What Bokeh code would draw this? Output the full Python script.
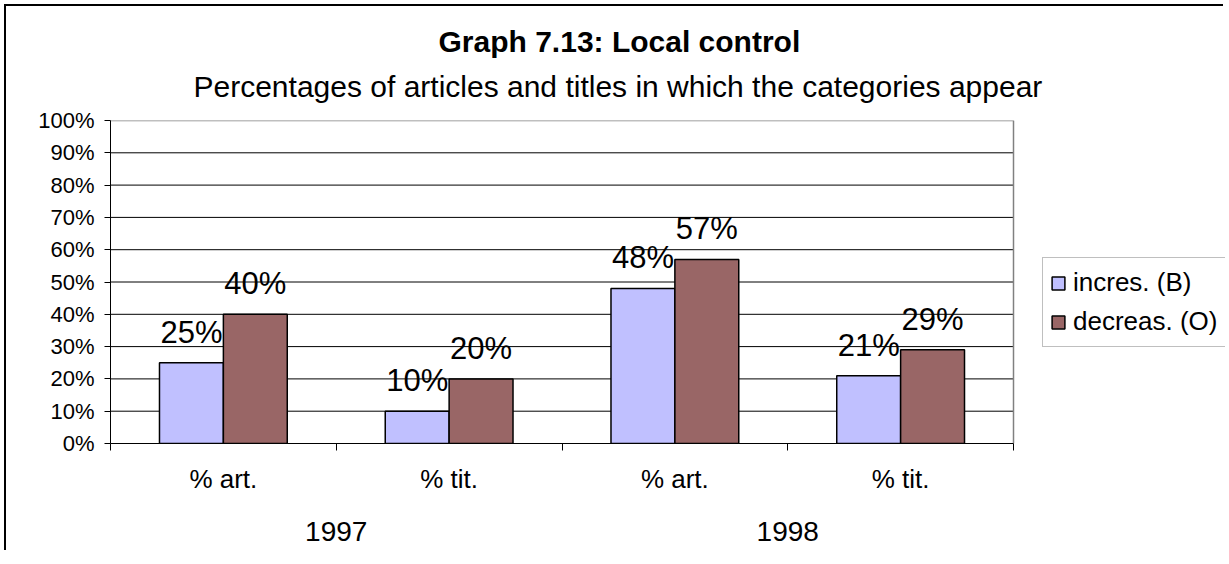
from bokeh.plotting import figure
from bokeh.models import (Range1d, FixedTicker, LinearAxis, Title, Legend, LegendItem,
                          LabelSet, ColumnDataSource, PrintfTickFormatter, Grid)
from bokeh.core.properties import value
from bokeh.embed import file_html
from bokeh.resources import INLINE

# ---- data ----
categories = ["% art.", "% tit.", "% art.", "% tit."]
years = ["1997", "1998"]
series_names = ["incres. (B)", "decreas. (O)"]
incres = [25, 10, 48, 21]
decreas = [40, 20, 57, 29]
y_ticks = list(range(0, 101, 10))

title_text = "Graph 7.13: Local control"
subtitle_text = "Percentages of articles and titles in which the categories appear"

FONT = "Liberation Sans"
W, H = 1219, 546
BLUE = "#C0C0FF"
BROWN = "#996666"

ML, MR, MT, MB = 104, 0, 114, 109
FRAME_W = W - ML - MR          # whole drawable width (legend lives inside it)
DATA_W = 903                   # pixel width of the category area
n = len(categories)
x_end = n * FRAME_W / DATA_W
y_max = y_ticks[-1]

p = figure(width=W, height=H, output_backend="svg", toolbar_location=None,
           x_range=Range1d(0, x_end), y_range=Range1d(0, y_max),
           min_border_left=ML, min_border_right=MR, min_border_top=MT, min_border_bottom=MB,
           x_axis_location=None, y_axis_location=None, title=None)
p.background_fill_color = "white"
p.border_fill_color = "white"
p.outline_line_color = None
p.styles = {"border-left": "2px solid black", "border-top": "2px solid black",
            "margin-left": "4px", "margin-top": "4px"}
for g in p.select(type=Grid):
    g.visible = False

# y axis
yax = LinearAxis(ticker=FixedTicker(ticks=y_ticks, minor_ticks=[]),
                 formatter=PrintfTickFormatter(format="%d%%"))
yax.major_label_text_font = FONT
yax.major_label_text_font_size = "22px"
yax.major_label_text_color = "black"
yax.major_tick_out = 6
yax.major_tick_in = 0
yax.major_tick_line_color = "black"
yax.axis_line_color = "black"
yax.major_label_standoff = 10
p.add_layout(yax, "left")

# horizontal gridlines, limited to the category area
inner = y_ticks[1:-1]
p.segment(x0=[0] * len(inner), x1=[n] * len(inner), y0=inner, y1=inner,
          line_color="black", line_width=1)
# plot-area border (top and right), grey
p.line(x=[0, n, n], y=[y_max, y_max, 0], line_color="#808080", line_width=1.5)

# x axis: category labels + boundary ticks
centers = [i + 0.5 for i in range(n)]
bounds = list(range(n + 1))
xax = LinearAxis(ticker=FixedTicker(ticks=centers, minor_ticks=bounds), bounds=(0, n))
xax.major_label_overrides = {c: lab for c, lab in zip(centers, categories)}
xax.major_tick_line_color = None
xax.major_tick_out = 0
xax.major_tick_in = 0
xax.minor_tick_out = 7
xax.minor_tick_in = 0
xax.minor_tick_line_color = "black"
xax.axis_line_color = "black"
xax.major_label_text_font = FONT
xax.major_label_text_font_size = "26px"
xax.major_label_text_color = "black"
xax.major_label_standoff = 13
p.add_layout(xax, "below")

# year axis
gsize = n // len(years)
group_centers = [g * gsize + gsize / 2 for g in range(len(years))]
yrax = LinearAxis(ticker=FixedTicker(ticks=group_centers, minor_ticks=[]))
yrax.major_label_overrides = {c: lab for c, lab in zip(group_centers, years)}
yrax.axis_line_color = None
yrax.major_tick_line_color = None
yrax.minor_tick_line_color = None
yrax.major_tick_out = 0
yrax.major_tick_in = 0
yrax.major_label_text_font = FONT
yrax.major_label_text_font_size = "28px"
yrax.major_label_text_color = "black"
yrax.major_label_standoff = 25
p.add_layout(yrax, "below")

# bars
bw = 0.283
src = ColumnDataSource(dict(
    xb=[c - bw / 2 for c in centers],
    xo=[c + bw / 2 for c in centers],
    incres=incres, decreas=decreas,
    lb=[f"{v}%" for v in incres],
    lo=[f"{v}%" for v in decreas],
))
rb = p.vbar(x="xb", top="incres", bottom=0, width=bw, source=src,
            fill_color=BLUE, line_color="black", line_width=1.5)
ro = p.vbar(x="xo", top="decreas", bottom=0, width=bw, source=src,
            fill_color=BROWN, line_color="black", line_width=1.5)

for xcol, ycol, tcol in [("xb", "incres", "lb"), ("xo", "decreas", "lo")]:
    ls = LabelSet(x=xcol, y=ycol, text=tcol, source=src, y_offset=20,
                  text_align="center", text_baseline="alphabetic",
                  text_font=value(FONT), text_font_size=value("31px"), text_color="black")
    p.add_layout(ls)

# titles
sub = Title(text=subtitle_text, align="left", offset=83, text_font=FONT,
            text_font_size="30px", text_font_style="normal", text_color="black", standoff=35)
p.add_layout(sub, "above")
ttl = Title(text=title_text, align="left", offset=328, text_font=FONT,
            text_font_size="30px", text_font_style="bold", text_color="black", standoff=-14)
p.add_layout(ttl, "above")

# legend (inside the frame, to the right of the category area)
legend = Legend(items=[LegendItem(label=series_names[0], renderers=[rb]),
                       LegendItem(label=series_names[1], renderers=[ro])],
                location=(DATA_W + 29, 96), orientation="vertical")
legend.border_line_color = "#808080"
legend.border_line_width = 1
legend.background_fill_color = "white"
legend.label_text_font = FONT
legend.label_text_font_size = "26px"
legend.label_text_color = "black"
legend.glyph_width = 16
legend.glyph_height = 16
legend.label_standoff = 7
legend.padding = 7
legend.spacing = 4
legend.label_height = 35
legend.margin = 0
p.add_layout(legend)

open("out.html", "w").write(file_html(p, INLINE))
